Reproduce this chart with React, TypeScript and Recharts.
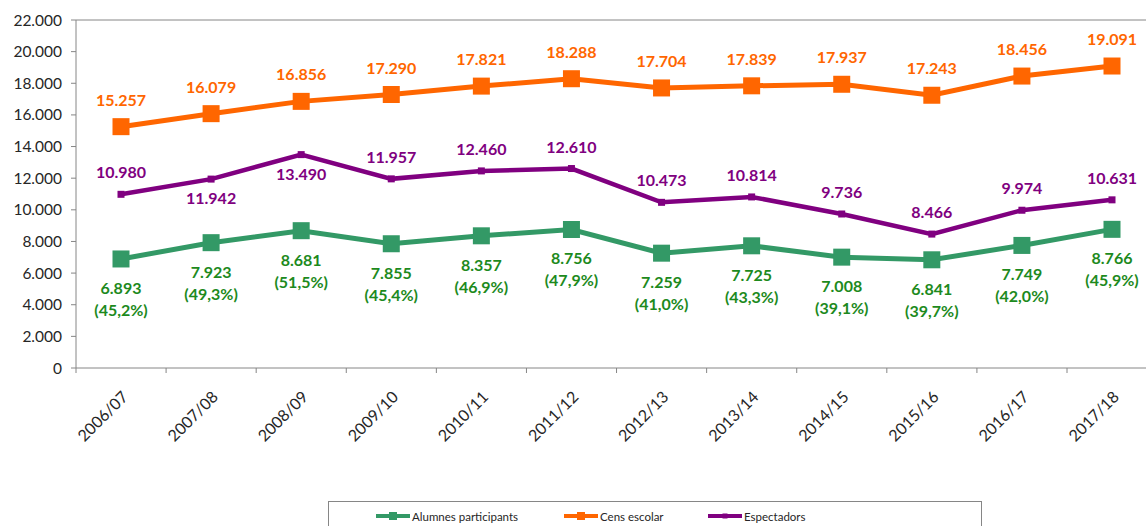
import React from 'react';
import { LineChart, Line, XAxis, YAxis, ReferenceLine, Legend } from 'recharts';

const CATEGORIES = ['2006/07', '2007/08', '2008/09', '2009/10', '2010/11', '2011/12', '2012/13', '2013/14', '2014/15', '2015/16', '2016/17', '2017/18'];
const ALUMNES = [6893, 7923, 8681, 7855, 8357, 8756, 7259, 7725, 7008, 6841, 7749, 8766];
const ALUMNES_PCT = [45.2, 49.3, 51.5, 45.4, 46.9, 47.9, 41.0, 43.3, 39.1, 39.7, 42.0, 45.9];
const CENS = [15257, 16079, 16856, 17290, 17821, 18288, 17704, 17839, 17937, 17243, 18456, 19091];
const ESPECTADORS = [10980, 11942, 13490, 11957, 12460, 12610, 10473, 10814, 9736, 8466, 9974, 10631];
const Y_TICKS = [0, 2000, 4000, 6000, 8000, 10000, 12000, 14000, 16000, 18000, 20000, 22000];
// years where the Espectadors label sits under the line
const ESPECTADORS_BELOW = ['2007/08', '2008/09'];

const SERIES = [
    { key: 'alumnes', name: 'Alumnes participants', color: '#339966', marker: 8 },
    { key: 'cens', name: 'Cens escolar', color: '#FF6600', marker: 8 },
    { key: 'espectadors', name: 'Espectadors', color: '#800080', marker: 5 },
];

const data = CATEGORIES.map((cat, i) => ({
    cat,
    alumnes: ALUMNES[i],
    pct: ALUMNES_PCT[i],
    cens: CENS[i],
    espectadors: ESPECTADORS[i],
}));

const FONT = 'Lato, sans-serif';
const GREEN_TEXT = '#1D8A1D';
const AXIS = '#868686';
const HALF_BAND = 45;

const fmt = (n: number) => String(n).replace(/\B(?=(\d{3})+(?!\d))/g, '.');
const fmtPct = (p: number) => '(' + p.toFixed(1).replace('.', ',') + '%)';

const squareDot = (size: number, color: string) => (props: any) => {
    const { cx, cy, index } = props;
    if (cx == null || cy == null) return <g key={`d-${index}`} />;
    return <rect key={`d-${index}`} x={cx - size / 2} y={cy - size / 2} width={size} height={size} fill={color} />;
};

const XTick = (props: any) => {
    const { x, y, payload } = props;
    return (
        <g>
            <line x1={x - HALF_BAND} x2={x - HALF_BAND} y1={y} y2={y + 5} stroke={AXIS} />
            <text
                x={x + 8}
                y={y + 30}
                textAnchor="end"
                transform={`rotate(-45, ${x + 8}, ${y + 30})`}
                fontFamily={FONT}
                fontSize={16}
                fill="#262626"
            >
                {payload.value}
            </text>
        </g>
    );
};

const censLabel = (props: any) => {
    const { x, y, value, index } = props;
    return (
        <text key={`c-${index}`} x={x} y={y - 21} textAnchor="middle" fontFamily={FONT} fontWeight={700} fontSize={16} fill="#FF6600">
            {fmt(value)}
        </text>
    );
};

const espectadorsLabel = (props: any) => {
    const { x, y, value, index } = props;
    const below = ESPECTADORS_BELOW.includes(CATEGORIES[index]);
    return (
        <text key={`e-${index}`} x={x} y={below ? y + 25 : y - 16} textAnchor="middle" fontFamily={FONT} fontWeight={700} fontSize={16} fill="#800080">
            {fmt(value)}
        </text>
    );
};

const alumnesLabel = (props: any) => {
    const { x, y, value, index } = props;
    return (
        <g key={`a-${index}`}>
            <text x={x} y={y + 35} textAnchor="middle" fontFamily={FONT} fontWeight={700} fontSize={16} fill={GREEN_TEXT}>
                {fmt(value)}
            </text>
            <text x={x} y={y + 57} textAnchor="middle" fontFamily={FONT} fontWeight={700} fontSize={16} fill={GREEN_TEXT}>
                {fmtPct(ALUMNES_PCT[index])}
            </text>
        </g>
    );
};

const LEGEND_X = [47, 235, 379];

const LegendBox = () => (
    <div style={{ position: 'relative', width: 654, height: 40, border: `1px solid ${AXIS}`, boxSizing: 'border-box' }}>
        {SERIES.map((s, i) => (
            <div key={s.key} style={{ position: 'absolute', left: LEGEND_X[i], top: 5, display: 'flex', alignItems: 'center', height: 18 }}>
                <svg width={34} height={10} style={{ display: 'block' }}>
                    <line x1={0} x2={34} y1={5} y2={5} stroke={s.color} strokeWidth={4} />
                    <rect x={17 - s.marker / 2} y={5 - s.marker / 2} width={s.marker} height={s.marker} fill={s.color} />
                </svg>
                <span style={{ fontFamily: FONT, fontSize: 11.5, color: '#262626', marginLeft: 2 }}>{s.name}</span>
            </div>
        ))}
    </div>
);

export default function App() {
    return (
        <div style={{ position: 'fixed', left: 0, top: 0, width: 1146, height: 526, overflow: 'hidden', background: '#fff' }}>
            <LineChart width={1160} height={526} data={data} margin={{ top: 20, right: 3, bottom: 0, left: 0 }}>
                <XAxis
                    dataKey="cat"
                    height={158}
                    padding={{ left: HALF_BAND, right: HALF_BAND }}
                    tickLine={false}
                    tickSize={0}
                    tickMargin={0}
                    interval={0}
                    axisLine={{ stroke: AXIS }}
                    tick={<XTick />}
                />
                <YAxis
                    width={76}
                    domain={[0, 22000]}
                    ticks={Y_TICKS}
                    interval={0}
                    tickSize={5}
                    tickMargin={9}
                    tickLine={{ stroke: AXIS }}
                    axisLine={{ stroke: AXIS }}
                    tickFormatter={fmt}
                    tick={{ fontFamily: FONT, fontSize: 15.5, fill: '#262626' }}
                />
                <ReferenceLine y={22000} stroke={AXIS} />
                <Legend
                    layout="horizontal"
                    verticalAlign="middle"
                    width={654}
                    height={40}
                    wrapperStyle={{ left: 328, top: 501, width: 654, height: 40 }}
                    content={<LegendBox />}
                />
                <Line
                    dataKey="alumnes"
                    name="Alumnes participants"
                    stroke="#339966"
                    strokeWidth={5}
                    dot={squareDot(17, '#339966')}
                    activeDot={false}
                    label={alumnesLabel}
                    isAnimationActive={false}
                />
                <Line
                    dataKey="cens"
                    name="Cens escolar"
                    stroke="#FF6600"
                    strokeWidth={5}
                    dot={squareDot(17, '#FF6600')}
                    activeDot={false}
                    label={censLabel}
                    isAnimationActive={false}
                />
                <Line
                    dataKey="espectadors"
                    name="Espectadors"
                    stroke="#800080"
                    strokeWidth={4.5}
                    dot={squareDot(7, '#800080')}
                    activeDot={false}
                    label={espectadorsLabel}
                    isAnimationActive={false}
                />
            </LineChart>
        </div>
    );
}
